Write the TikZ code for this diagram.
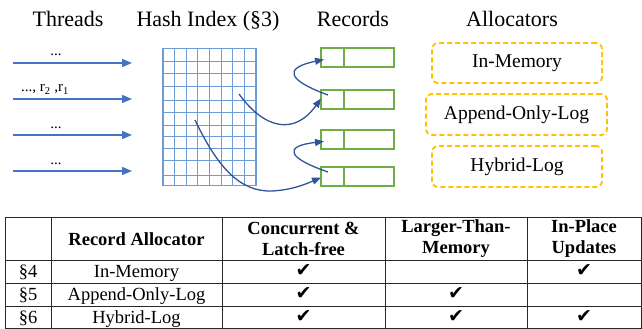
\documentclass[tikz,border=0pt]{standalone}
\usepackage{fontspec}
\setmainfont{Liberation Serif}
\newfontfamily\dejavu{DejaVu Sans}
\usetikzlibrary{arrows.meta,shapes.multipart}
\definecolor{thr}{RGB}{68,114,196}
\definecolor{gridc}{RGB}{110,155,216}
\definecolor{curv}{RGB}{47,85,151}
\definecolor{recg}{RGB}{112,173,71}
\definecolor{alloc}{RGB}{255,192,0}
\definecolor{tline}{RGB}{40,40,40}
\tikzset{
  title/.style={font=\fontsize{22}{24}\selectfont, inner sep=0pt, anchor=base},
  thread/.style={draw=thr, line width=1.4pt, -{Triangle[length=10pt,width=8pt]}},
  tlabel/.style={font=\fontsize{15}{16}\selectfont, inner sep=0pt, anchor=base},
  recbox/.style={draw=recg, line width=1.3pt, minimum width=73pt, minimum height=19pt, inner sep=0pt, outer sep=0pt},
  ptr/.style={draw=curv, line width=1.3pt, -{Triangle[length=9pt,width=7pt]}},
  allocbox/.style={draw=alloc, line width=1.8pt, dash pattern=on 5pt off 3pt, rounded corners=6pt, inner sep=0pt, font=\fontsize{19.5}{22}\selectfont},
  tline/.style={draw=tline, line width=0.9pt},
  cell/.style={font=\fontsize{18.5}{20}\selectfont, inner sep=0pt, anchor=base},
  hcell/.style={font=\bfseries\fontsize{18.5}{21}\selectfont, inner sep=0pt, align=center},
  chk/.style={font=\dejavu\fontsize{19}{20}\selectfont, inner sep=0pt}
}
\begin{document}
\begin{tikzpicture}[x=1pt,y=-1pt]
\useasboundingbox (0,0) rectangle (642,329);
% titles
\node[title] (tthreads) at (68,27) {Threads};
\node[title] (thash) at (208,27) {Hash Index (§3)};
\node[title] (trecords) at (353,27) {Records};
\node[title] (talloc) at (512,27) {Allocators};
% threads
\foreach \i/\y in {1/63,2/99,3/135,4/171}{
  \coordinate (ts\i) at (13,\y);
  \coordinate (te\i) at (132,\y);
  \draw[thread] (ts\i) -- (te\i);
}
\node[tlabel] (l1) at (56,56) {...};
\node[tlabel] (l2) at (45,92) {..., r\textsubscript{2} ,r\textsubscript{1}};
\node[tlabel] (l3) at (56,128) {...};
\node[tlabel] (l4) at (56,164) {...};
% hash grid
\node[draw=gridc, line width=1.2pt, minimum width=93pt, minimum height=137.7pt, inner sep=0pt] (hash) at (209.5,117) {};
\foreach \x in {174.6,186.2,197.9,209.5,221.1,232.7,244.4}{
  \draw[gridc, line width=1pt] (\x,48.3) -- (\x,185.7);
}
\foreach \y in {61.7,73.3,86.7,100,112.7,125,136.7,148.3,160.7,175}{
  \draw[gridc, line width=1pt] (163,\y) -- (256,\y);
}
% records
\foreach \i/\y in {1/57.5,2/99.5,3/139.5,4/176.5}{
  \node[recbox] (rec\i) at (357.5,\y) {};
  \draw[recg, line width=1.3pt] ([xshift=23pt]rec\i.north west) -- ([xshift=23pt]rec\i.south west);
}
% pointers
\coordinate (ha) at (239,94);
\coordinate (hb) at (195,120);
\coordinate (r2in) at (328,95);
\coordinate (r4in) at (328,172);
\draw[ptr] (ha) .. controls (265,130) and (295,135) .. ([yshift=1pt]rec2.west);
\draw[ptr] (hb) .. controls (218,168) and (240,192) .. (272,191) .. controls (292,190) and (306,184) .. ([yshift=-1pt]rec4.west);
\draw[ptr] (r2in) .. controls (287,80) and (283,68) .. ([xshift=3pt,yshift=-2pt]rec1.west);
\draw[ptr] (r4in) .. controls (287,158) and (283,146) .. ([xshift=3pt,yshift=-2pt]rec3.west);
% allocators
\node[allocbox, minimum width=170pt, minimum height=40pt] (a1) at (517,63) {In-Memory};
\node[allocbox, minimum width=181pt, minimum height=41pt] (a2) at (516.5,114.5) {Append-Only-Log};
\node[allocbox, minimum width=170pt, minimum height=41pt] (a3) at (517,166.5) {Hybrid-Log};
% table
\draw[tline] (5,217) -- (641,217);
\draw[tline] (5,260) -- (641,260);
\draw[tline] (5,283) -- (641,283);
\draw[tline] (5,306) -- (641,306);
\draw[tline] (5,328.5) -- (641,328.5);
\foreach \x in {5,51,222,385,527,641}{
  \draw[tline] (\x,217) -- (\x,329);
}
\node[hcell] (h1) at (136.5,239) {Record Allocator};
\node[hcell] (h2) at (303.5,239) {Concurrent \&\\Latch-free};
\node[hcell] (h3) at (456,239) {Larger-Than-\\Memory};
\node[hcell] (h4) at (584,239) {In-Place\\Updates};
\node[cell] (s4) at (28,277.5) {§4};
\node[cell] (s5) at (28,300.5) {§5};
\node[cell] (s6) at (28,323.5) {§6};
\node[cell] (n4) at (136.5,277.5) {In-Memory};
\node[cell] (n5) at (136.5,300.5) {Append-Only-Log};
\node[cell] (n6) at (136.5,323.5) {Hybrid-Log};
\node[chk] (c41) at (303.5,271) {✔};
\node[chk] (c43) at (584,271) {✔};
\node[chk] (c51) at (303.5,294) {✔};
\node[chk] (c52) at (456,294) {✔};
\node[chk] (c61) at (303.5,317) {✔};
\node[chk] (c62) at (456,317) {✔};
\node[chk] (c63) at (584,317) {✔};
\end{tikzpicture}
\end{document}
